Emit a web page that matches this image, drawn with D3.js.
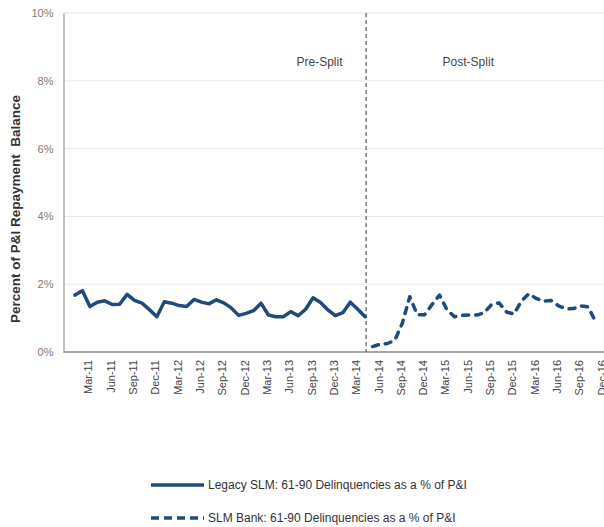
<!DOCTYPE html>
<html>
<head>
<meta charset="utf-8">
<script src="https://cdn.jsdelivr.net/npm/d3@7/dist/d3.min.js"></script>
<style>
  html, body { margin: 0; padding: 0; background: #fff; }
  svg { display: block; font-family: "Liberation Sans", Arial, Helvetica, sans-serif; }
</style>
</head>
<body>
<svg id="chart" width="604" height="527"></svg>
<script>
// Monthly categories, Jan-11 .. Dec-16
const months = [
  "Jan-11","Feb-11","Mar-11","Apr-11","May-11","Jun-11","Jul-11","Aug-11","Sep-11","Oct-11","Nov-11","Dec-11",
  "Jan-12","Feb-12","Mar-12","Apr-12","May-12","Jun-12","Jul-12","Aug-12","Sep-12","Oct-12","Nov-12","Dec-12",
  "Jan-13","Feb-13","Mar-13","Apr-13","May-13","Jun-13","Jul-13","Aug-13","Sep-13","Oct-13","Nov-13","Dec-13",
  "Jan-14","Feb-14","Mar-14","Apr-14","May-14","Jun-14","Jul-14","Aug-14","Sep-14","Oct-14","Nov-14","Dec-14",
  "Jan-15","Feb-15","Mar-15","Apr-15","May-15","Jun-15","Jul-15","Aug-15","Sep-15","Oct-15","Nov-15","Dec-15",
  "Jan-16","Feb-16","Mar-16","Apr-16","May-16","Jun-16","Jul-16","Aug-16","Sep-16","Oct-16","Nov-16","Dec-16"
];
// Legacy SLM, Jan-11 .. Apr-14 (percent)
const legacyMonths = months.slice(0, 40);
const legacyValues = [
  1.68, 1.81, 1.34, 1.47, 1.51, 1.40, 1.41, 1.70, 1.52, 1.44, 1.25, 1.04,
  1.48, 1.44, 1.37, 1.34, 1.55, 1.47, 1.42, 1.54, 1.45, 1.30, 1.08, 1.14,
  1.22, 1.44, 1.09, 1.04, 1.04, 1.19, 1.07, 1.26, 1.60, 1.46, 1.24, 1.07,
  1.16, 1.47, 1.26, 1.04
];
// SLM Bank, May-14 .. Nov-16 (percent)
const bankMonths = months.slice(40, 71);
const bankValues = [
  0.16, 0.23, 0.25, 0.35, 0.85, 1.63, 1.10, 1.10,
  1.40, 1.68, 1.25, 1.04, 1.08, 1.09, 1.09, 1.16, 1.40, 1.45, 1.18, 1.12,
  1.50, 1.72, 1.58, 1.50, 1.52, 1.36, 1.27, 1.28, 1.36, 1.33, 0.88
];
const xTickLabels = ["Mar-11","Jun-11","Sep-11","Dec-11","Mar-12","Jun-12","Sep-12","Dec-12",
  "Mar-13","Jun-13","Sep-13","Dec-13","Mar-14","Jun-14","Sep-14","Dec-14",
  "Mar-15","Jun-15","Sep-15","Dec-15","Mar-16","Jun-16","Sep-16","Dec-16"];
const yTicks = [0, 2, 4, 6, 8, 10];
const splitMonth = "Apr-14";
const periodLabels = ["Pre-Split", "Post-Split"];
const periodLabelMonths = ["Oct-13", "Jun-15"];
const seriesNames = ["Legacy SLM: 61-90 Delinquencies as a % of P&I", "SLM Bank: 61-90 Delinquencies as a % of P&I"];

const navy = "#1f4a7c";
const svg = d3.select("#chart");
const plotLeft = 63.5, plotRight = 604, plotTop = 13, plotBottom = 352;

const x = d3.scalePoint().domain(months).range([75, 603.2]);
const y = d3.scaleLinear().domain([0, 10]).range([plotBottom, plotTop]);

// gridlines
svg.append("g").selectAll("line").data(yTicks.filter(d => d > 0)).join("line")
  .attr("x1", plotLeft).attr("x2", plotRight)
  .attr("y1", d => y(d)).attr("y2", d => y(d))
  .attr("stroke", "#ebeae0").attr("stroke-width", 1);

// y axis
const yAxis = svg.append("g").attr("transform", `translate(${plotLeft},0)`)
  .call(d3.axisLeft(y).tickValues(yTicks).tickFormat(d => d + "%").tickSize(0).tickPadding(10));
yAxis.select(".domain").attr("stroke", "#9a9a9a").attr("stroke-width", 1.2);
yAxis.selectAll("text").attr("fill", "#7a7a7a").style("font-size", "11px")
  .style("font-family", "Liberation Sans, Arial, sans-serif");

// x axis
const xAxis = svg.append("g").attr("transform", `translate(0,${plotBottom})`)
  .call(d3.axisBottom(x).tickValues(xTickLabels).tickSize(0));
xAxis.select(".domain").attr("d", `M${plotLeft},0H${plotRight}`).attr("stroke", "#8a8a8a").attr("stroke-width", 1.5);
xAxis.selectAll("text")
  .attr("fill", "#444").style("font-size", "11px")
  .style("font-family", "Liberation Sans, Arial, sans-serif")
  .attr("text-anchor", "end").attr("dy", null).attr("y", 0)
  .attr("transform", "translate(-2,8) rotate(-90)")
  .attr("dominant-baseline", "central");

// split line
const sx = x(splitMonth) + 1;
svg.append("line").attr("x1", sx).attr("x2", sx).attr("y1", plotTop).attr("y2", plotBottom)
  .attr("stroke", "#7a7a7a").attr("stroke-width", 1.5).attr("stroke-dasharray", "4,3");

// period labels
svg.append("g").selectAll("text").data(periodLabels).join("text")
  .attr("x", (d, i) => x(periodLabelMonths[i]) - 1).attr("y", 66)
  .attr("text-anchor", "middle").attr("fill", "#444").style("font-size", "12px")
  .text(d => d);

// lines
const legacyData = legacyMonths.map((m, i) => ({ m, v: legacyValues[i] }));
const bankData = bankMonths.map((m, i) => ({ m, v: bankValues[i] }));
const line = d3.line().x(d => x(d.m)).y(d => y(d.v));

svg.append("path").datum(legacyData).attr("d", line)
  .attr("fill", "none").attr("stroke", navy).attr("stroke-width", 3.5)
  .attr("stroke-linejoin", "round").attr("stroke-linecap", "round");
svg.append("path").datum(bankData).attr("d", line)
  .attr("fill", "none").attr("stroke", navy).attr("stroke-width", 3.5)
  .attr("stroke-dasharray", "6,7").attr("stroke-linecap", "round").attr("stroke-linejoin", "round");

// y label
svg.append("text").attr("transform", "translate(20,209) rotate(-90)")
  .attr("text-anchor", "middle").attr("fill", "#333")
  .style("font-size", "13.5px").style("font-weight", "bold")
  .attr("xml:space", "preserve").style("white-space", "pre")
  .text("Percent of P&I Repayment  Balance");

// legend
const legend = svg.append("g");
const legY = [485, 518];
legend.selectAll("line").data(seriesNames).join("line")
  .attr("x1", 151).attr("x2", 204)
  .attr("y1", (d, i) => legY[i]).attr("y2", (d, i) => legY[i])
  .attr("stroke", navy).attr("stroke-width", 3.5)
  .attr("stroke-dasharray", (d, i) => i === 1 ? "8,5" : null);
legend.selectAll("text").data(seriesNames).join("text")
  .attr("x", 208).attr("y", (d, i) => legY[i]).attr("dy", "0.35em")
  .attr("fill", "#333").style("font-size", "12px")
  .text(d => d);
</script>
</body>
</html>
